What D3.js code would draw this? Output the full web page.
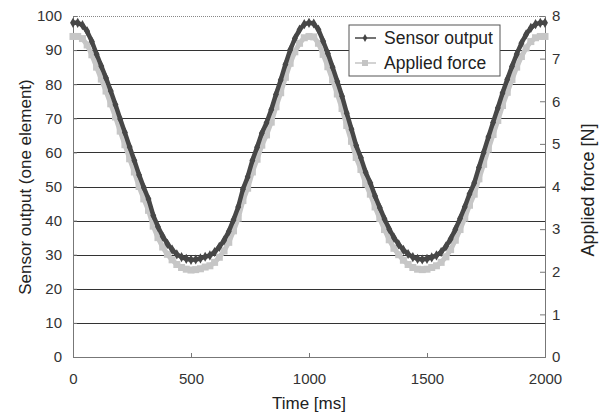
<!DOCTYPE html>
<html>
<head>
<meta charset="utf-8">
<script src="https://cdn.jsdelivr.net/npm/d3@7"></script>
<style>
  body { margin: 0; background: #fff; }
  text { font-family: Arial, "Liberation Sans", sans-serif; fill: #222; }
</style>
</head>
<body>
<div id="chart"></div>
<script>
// time axis, one sample every 20 ms
var times = d3.range(0, 2001, 20);

// sensor output (left axis, counts)
var sensorOutput = [
  98, 98, 97.3, 95.5, 92.5, 88.8, 85.3, 81.8, 78, 74,
  69.8, 65.8, 61.6, 57.6, 53.4, 49.7, 46.3, 41.5, 38.2, 35.4,
  33.2, 31.5, 30.1, 29.3, 28.8, 28.5, 28.6, 28.9, 29.4, 29.8,
  30.8, 32.3, 34.2, 36.8, 40.2, 44, 49.2, 52.8, 57.6, 61.5,
  65.6, 68.7, 72.5, 77, 81.2, 85.8, 90, 93.4, 96, 97.6,
  98, 97.8, 96, 92.6, 89, 85, 80.8, 76.5, 71.5, 66.8,
  62, 58.4, 54.2, 51, 47.2, 43.8, 40.5, 37.5, 35, 33,
  31.4, 30.2, 29.3, 28.8, 28.6, 28.8, 29.2, 29.8, 30.8, 32.4,
  34.6, 37.4, 40.6, 44, 47.8, 51, 55.6, 60, 64.5, 68.8,
  73, 77.4, 81.4, 85.2, 88.8, 92, 94.6, 96.5, 97.6, 98,
  98
];

// applied force (right axis, N)
var appliedForce = [
  7.52, 7.52, 7.47, 7.32, 7.09, 6.80, 6.52, 6.24, 5.94, 5.63,
  5.30, 4.98, 4.65, 4.34, 4.00, 3.71, 3.44, 3.07, 2.80, 2.58,
  2.41, 2.28, 2.17, 2.10, 2.06, 2.04, 2.05, 2.07, 2.11, 2.14,
  2.22, 2.34, 2.49, 2.69, 2.96, 3.26, 3.67, 3.96, 4.34, 4.64,
  4.97, 5.21, 5.51, 5.87, 6.20, 6.56, 6.89, 7.16, 7.36, 7.49,
  7.52, 7.51, 7.36, 7.10, 6.81, 6.50, 6.17, 5.83, 5.43, 5.06,
  4.68, 4.40, 4.07, 3.82, 3.52, 3.25, 2.99, 2.75, 2.55, 2.40,
  2.27, 2.17, 2.10, 2.06, 2.05, 2.06, 2.10, 2.14, 2.22, 2.35,
  2.52, 2.74, 2.99, 3.26, 3.56, 3.82, 4.18, 4.52, 4.88, 5.22,
  5.55, 5.90, 6.21, 6.51, 6.80, 7.05, 7.25, 7.40, 7.49, 7.52,
  7.52
];

var xTicks = [0, 500, 1000, 1500, 2000];
var leftTicks = [0, 10, 20, 30, 40, 50, 60, 70, 80, 90, 100];
var rightTicks = [0, 1, 2, 3, 4, 5, 6, 7, 8];
var seriesNames = ["Sensor output", "Applied force"];

var W = 606, H = 416;
var m = { left: 73, right: 61, top: 16, bottom: 59 };
var pw = W - m.left - m.right, ph = H - m.top - m.bottom;

var x = d3.scaleLinear().domain([0, 2000]).range([0, pw]);
var yL = d3.scaleLinear().domain([0, 100]).range([ph, 0]);
var yR = d3.scaleLinear().domain([0, 8]).range([ph, 0]);

var svg = d3.select("#chart").append("svg")
  .attr("width", W).attr("height", H);
var g = svg.append("g").attr("transform", "translate(" + m.left + "," + m.top + ")");

// gridlines
g.selectAll(".grid").data(leftTicks.slice(1)).enter().append("line")
  .attr("x1", 0).attr("x2", pw)
  .attr("y1", function (d) { return Math.round(yL(d)) + 0.5; })
  .attr("y2", function (d) { return Math.round(yL(d)) + 0.5; })
  .style("stroke", function (d) { return d === 100 ? "#888" : "#333"; })
  .style("stroke-dasharray", function (d) { return d === 100 ? "1,1" : null; })
  .style("stroke-width", 1);

// axes
var axL = g.append("g")
  .call(d3.axisLeft(yL).tickValues(leftTicks).tickSize(-4).tickPadding(11));
var axR = g.append("g").attr("transform", "translate(" + pw + ",0)")
  .call(d3.axisRight(yR).tickValues(rightTicks).tickSize(-5).tickPadding(7));
var axB = g.append("g").attr("transform", "translate(0," + ph + ")")
  .call(d3.axisBottom(x).tickValues(xTicks).tickFormat(d3.format("d")).tickSize(-4).tickPadding(16));
[axL, axR, axB].forEach(function (a) {
  a.select(".domain").style("stroke", "#777");
  a.selectAll(".tick line").style("stroke", "#777");
  a.selectAll("text").style("font-size", "15px").style("fill", "#333");
});

// series
var line = d3.line();
var ptsS = times.map(function (t, i) { return [x(t), yL(sensorOutput[i])]; });
var ptsF = times.map(function (t, i) { return [x(t), yR(appliedForce[i])]; });

g.append("path").attr("d", line(ptsF))
  .style("fill", "none").style("stroke", "#c6c6c6").style("stroke-width", 5)
  .style("stroke-linejoin", "round");
g.selectAll(".sq").data(ptsF).enter().append("rect")
  .attr("x", function (d) { return d[0] - 3.5; }).attr("y", function (d) { return d[1] - 3.5; })
  .attr("width", 7).attr("height", 7).style("fill", "#c6c6c6");

g.append("path").attr("d", line(ptsS))
  .style("fill", "none").style("stroke", "#474747").style("stroke-width", 4.5)
  .style("stroke-linejoin", "round");
g.selectAll(".dm").data(ptsS).enter().append("path")
  .attr("d", d3.symbol(d3.symbolDiamond, 30))
  .attr("transform", function (d) { return "translate(" + d[0] + "," + d[1] + ")"; })
  .style("fill", "#474747");

// legend
var lg = svg.append("g").attr("transform", "translate(349,25)");
lg.append("rect").attr("width", 151).attr("height", 51)
  .style("fill", "#fff").style("stroke", "#555");
seriesNames.forEach(function (name, i) {
  var yy = 13 + i * 25;
  var col = i === 0 ? "#444" : "#c4c4c4";
  lg.append("line").attr("x1", 6).attr("x2", 27).attr("y1", yy).attr("y2", yy)
    .style("stroke", col).style("stroke-width", 1.5);
  if (i === 0) {
    lg.append("path").attr("d", d3.symbol(d3.symbolDiamond, 18))
      .attr("transform", "translate(16," + yy + ")").style("fill", col);
  } else {
    lg.append("rect").attr("x", 13).attr("y", yy - 3).attr("width", 6).attr("height", 6)
      .style("fill", col);
  }
  lg.append("text").attr("x", 35).attr("y", yy).attr("dy", "0.35em")
    .style("font-size", "17.5px").text(name);
});

// axis titles
svg.append("text").attr("x", m.left + pw / 2).attr("y", 409)
  .attr("text-anchor", "middle").style("font-size", "17px").text("Time [ms]");
svg.append("text").attr("transform", "translate(31,187) rotate(-90)")
  .attr("text-anchor", "middle").style("font-size", "17px").text("Sensor output (one element)");
svg.append("text").attr("transform", "translate(594,190) rotate(-90)")
  .attr("text-anchor", "middle").style("font-size", "18px").text("Applied force [N]");
</script>
</body>
</html>
